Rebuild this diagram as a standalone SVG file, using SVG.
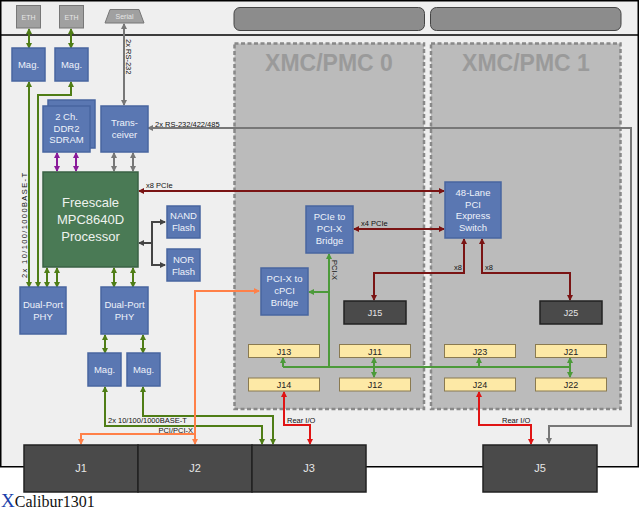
<svg xmlns="http://www.w3.org/2000/svg" width="640" height="511" viewBox="0 0 640 511">
<style>
text{font-family:"Liberation Sans",Arial,sans-serif}
.blue{fill:#5a77b2;stroke:#4866a0;stroke-width:1.5}
.bt{fill:#eef2fa;font-size:9.5px;text-anchor:middle}
.jy{fill:#fde9a6;stroke:#8a7a50;stroke-width:1}
.jyt{fill:#222;font-size:9px;text-anchor:middle}
.jd{fill:#4a4a4a;stroke:#222;stroke-width:1.5}
.jdt{fill:#e6e6e6;font-size:11px;text-anchor:middle}
.lbl{fill:#111;font-size:7.5px}
.w{fill:none;stroke-width:2}
.eth{stroke:#4f7d16}
.pcix{stroke:#4c9a3a}
.dred{stroke:#7a1414}
.red{stroke:#e01414}
.org{stroke:#ff8048}
.gry{stroke:#777}
.pur{stroke:#8a1a9a}
.dg{stroke:#444}
</style>
<defs>
<marker id="aEth" viewBox="0 0 6 6" refX="5" refY="3" markerWidth="6" markerHeight="6" markerUnits="userSpaceOnUse" orient="auto-start-reverse"><path d="M0,0L6,3L0,6z" fill="#4f7d16"/></marker>
<marker id="aPcix" viewBox="0 0 6 6" refX="5" refY="3" markerWidth="6" markerHeight="6" markerUnits="userSpaceOnUse" orient="auto-start-reverse"><path d="M0,0L6,3L0,6z" fill="#4c9a3a"/></marker>
<marker id="aDred" viewBox="0 0 6 6" refX="5" refY="3" markerWidth="6" markerHeight="6" markerUnits="userSpaceOnUse" orient="auto-start-reverse"><path d="M0,0L6,3L0,6z" fill="#7a1414"/></marker>
<marker id="aRed" viewBox="0 0 6 6" refX="5" refY="3" markerWidth="6" markerHeight="6" markerUnits="userSpaceOnUse" orient="auto-start-reverse"><path d="M0,0L6,3L0,6z" fill="#e01414"/></marker>
<marker id="aOrg" viewBox="0 0 6 6" refX="5" refY="3" markerWidth="6" markerHeight="6" markerUnits="userSpaceOnUse" orient="auto-start-reverse"><path d="M0,0L6,3L0,6z" fill="#ff8048"/></marker>
<marker id="aGry" viewBox="0 0 6 6" refX="5" refY="3" markerWidth="6" markerHeight="6" markerUnits="userSpaceOnUse" orient="auto-start-reverse"><path d="M0,0L6,3L0,6z" fill="#777"/></marker>
<marker id="aPur" viewBox="0 0 6 6" refX="5" refY="3" markerWidth="6" markerHeight="6" markerUnits="userSpaceOnUse" orient="auto-start-reverse"><path d="M0,0L6,3L0,6z" fill="#8a1a9a"/></marker>
<marker id="aDg" viewBox="0 0 6 6" refX="5" refY="3" markerWidth="6" markerHeight="6" markerUnits="userSpaceOnUse" orient="auto-start-reverse"><path d="M0,0L6,3L0,6z" fill="#444"/></marker>
</defs>
<rect width="640" height="511" fill="#fff"/>
<g id="board">
<rect x="0.75" y="0.75" width="637.5" height="466" fill="#efefef" stroke="#000" stroke-width="1.5"/>
<line x1="0" y1="35" x2="639" y2="35" stroke="#000" stroke-width="1.5"/>
<rect x="234" y="7.5" width="190.5" height="23" rx="6" fill="#8c8c8c" stroke="#444" stroke-width="1"/>
<rect x="430.5" y="7.5" width="190.5" height="23" rx="6" fill="#8c8c8c" stroke="#444" stroke-width="1"/>
</g>
<g id="xmc0"><rect x="234.5" y="43.5" width="189.5" height="365.5" fill="#bbb" stroke="#888" stroke-width="2.5" stroke-dasharray="4,2.5"/>
<text x="329" y="71" font-size="23" font-weight="bold" fill="#9a9a9a" text-anchor="middle">XMC/PMC 0</text></g>
<g id="xmc1"><rect x="431" y="43.5" width="189.5" height="365.5" fill="#bbb" stroke="#888" stroke-width="2.5" stroke-dasharray="4,2.5"/>
<text x="526" y="71" font-size="23" font-weight="bold" fill="#9a9a9a" text-anchor="middle">XMC/PMC 1</text></g>

<g id="connectors">
<path class="w gry" d="M148,128H631V426H549V443" marker-start="url(#aGry)" marker-end="url(#aGry)"/>
<path class="w gry" d="M124,24V105" marker-start="url(#aGry)" marker-end="url(#aGry)"/>
<path class="w gry" d="M114,153V171" marker-start="url(#aGry)" marker-end="url(#aGry)"/>
<path class="w gry" d="M133,153V171" marker-start="url(#aGry)" marker-end="url(#aGry)"/>
<path class="w pur" d="M57,153V171" marker-start="url(#aPur)" marker-end="url(#aPur)"/>
<path class="w pur" d="M76,153V171" marker-start="url(#aPur)" marker-end="url(#aPur)"/>
<path class="w eth" d="M29,29V48" marker-start="url(#aEth)" marker-end="url(#aEth)"/>
<path class="w eth" d="M71,29V48" marker-start="url(#aEth)" marker-end="url(#aEth)"/>
<path class="w eth" d="M29,82V287" marker-start="url(#aEth)" marker-end="url(#aEth)"/>
<path class="w eth" d="M71,82V95H38V287" marker-start="url(#aEth)" marker-end="url(#aEth)"/>
<path class="w eth" d="M47,268V287" marker-start="url(#aEth)" marker-end="url(#aEth)"/>
<path class="w eth" d="M57,268V287" marker-start="url(#aEth)" marker-end="url(#aEth)"/>
<path class="w eth" d="M114,268V287" marker-start="url(#aEth)" marker-end="url(#aEth)"/>
<path class="w eth" d="M133,268V287" marker-start="url(#aEth)" marker-end="url(#aEth)"/>
<path class="w eth" d="M105,335V353" marker-start="url(#aEth)" marker-end="url(#aEth)"/>
<path class="w eth" d="M143,335V353" marker-start="url(#aEth)" marker-end="url(#aEth)"/>
<path class="w eth" d="M105,387V426H262V444" marker-start="url(#aEth)" marker-end="url(#aEth)"/>
<path class="w eth" d="M143,387V416H273V444" marker-start="url(#aEth)" marker-end="url(#aEth)"/>
<path class="w dg" d="M165,222H152V265H165" marker-start="url(#aDg)" marker-end="url(#aDg)"/>
<path class="w dg" d="M152,243H139" marker-end="url(#aDg)"/>
<path class="w dred" d="M139,191H444" marker-start="url(#aDred)" marker-end="url(#aDred)"/>
<path class="w dred" d="M354,229H444" marker-start="url(#aDred)" marker-end="url(#aDred)"/>
<path class="w dred" d="M464,239V273H374V300" marker-start="url(#aDred)" marker-end="url(#aDred)"/>
<path class="w dred" d="M482,239V273H570V300" marker-start="url(#aDred)" marker-end="url(#aDred)"/>
<path class="w pcix" d="M329,367V254" marker-end="url(#aPcix)"/>
<path class="w pcix" d="M329,292H309" marker-end="url(#aPcix)"/>
<path class="w pcix" d="M283,367H570"/>
<path class="w pcix" d="M283,367V358" marker-end="url(#aPcix)"/>
<path class="w pcix" d="M374,358V377" marker-start="url(#aPcix)" marker-end="url(#aPcix)"/>
<path class="w pcix" d="M479,367V358" marker-end="url(#aPcix)"/>
<path class="w pcix" d="M570,358V377" marker-start="url(#aPcix)" marker-end="url(#aPcix)"/>
<path class="w org" d="M259,291H195V444" marker-start="url(#aOrg)" marker-end="url(#aOrg)"/>
<path class="w org" d="M195,434H81V444" marker-end="url(#aOrg)"/>
<path class="w red" d="M284,392V425H310V444" marker-start="url(#aRed)" marker-end="url(#aRed)"/>
<path class="w red" d="M479,392V425H531V444" marker-start="url(#aRed)" marker-end="url(#aRed)"/>
<text class="lbl" x="155" y="127">2x RS-232/422/485</text>
<text class="lbl" transform="translate(126,39) rotate(90)">2x RS-232</text>
<text class="lbl" transform="translate(27,278) rotate(-90)" textLength="105" lengthAdjust="spacing">2x 10/100/1000BASE-T</text>
<text class="lbl" x="146" y="188">x8 PCIe</text>
<text class="lbl" x="361" y="226">x4 PCIe</text>
<text class="lbl" x="462" y="270" text-anchor="end">x8</text>
<text class="lbl" x="485" y="270">x8</text>
<text class="lbl" transform="translate(332,260) rotate(90)">PCI-X</text>
<text class="lbl" x="108" y="423">2x 10/100/1000BASE-T</text>
<text class="lbl" x="193" y="433" text-anchor="end">PCI/PCI-X</text>
<text class="lbl" x="287" y="423">Rear I/O</text>
<text class="lbl" x="502" y="423">Rear I/O</text>
</g>

<g id="eth1"><rect x="16.5" y="5.5" width="24" height="22.5" fill="#a0a0a0" stroke="#777"/><text x="28.5" y="20" font-size="7" fill="#e6e6e6" text-anchor="middle">ETH</text></g>
<g id="eth2"><rect x="59.5" y="5.5" width="24" height="22.5" fill="#a0a0a0" stroke="#777"/><text x="71.5" y="20" font-size="7" fill="#e6e6e6" text-anchor="middle">ETH</text></g>
<g id="serial"><path d="M110,9.5H139L144,23H105z" fill="#a0a0a0" stroke="#777"/><text x="124.5" y="19" font-size="7" fill="#e6e6e6" text-anchor="middle">Serial</text></g>
<g id="mag1"><rect class="blue" x="12" y="48" width="33" height="33"/><text class="bt" x="28.5" y="68">Mag.</text></g>
<g id="mag2"><rect class="blue" x="55" y="48" width="33" height="33"/><text class="bt" x="71.5" y="68">Mag.</text></g>
<g id="ddr2"><rect class="blue" x="48" y="100" width="47" height="48"/><rect class="blue" x="43" y="106" width="47" height="46"/>
<text class="bt" x="66.5" y="120">2 Ch.</text><text class="bt" x="66.5" y="131.5">DDR2</text><text class="bt" x="66.5" y="143">SDRAM</text></g>
<g id="transceiver"><rect class="blue" x="101" y="106" width="47" height="46"/><text class="bt" x="124.5" y="126">Trans-</text><text class="bt" x="124.5" y="138">ceiver</text></g>
<g id="processor"><rect x="43" y="172" width="95" height="95" fill="#4a7a55" stroke="#3a6244" stroke-width="1.5"/>
<text x="90.5" y="207" font-size="13" fill="#eef2ee" text-anchor="middle">Freescale</text>
<text x="90.5" y="224" font-size="13" fill="#eef2ee" text-anchor="middle">MPC8640D</text>
<text x="90.5" y="241" font-size="13" fill="#eef2ee" text-anchor="middle">Processor</text></g>
<g id="nand"><rect class="blue" x="167" y="206" width="33" height="32"/><text class="bt" x="183.5" y="219">NAND</text><text class="bt" x="183.5" y="231">Flash</text></g>
<g id="nor"><rect class="blue" x="167" y="249" width="33" height="32"/><text class="bt" x="183.5" y="263">NOR</text><text class="bt" x="183.5" y="275">Flash</text></g>
<g id="phy1"><rect class="blue" x="20" y="287" width="46" height="47"/><text class="bt" x="43" y="308">Dual-Port</text><text class="bt" x="43" y="320">PHY</text></g>
<g id="phy2"><rect class="blue" x="101" y="287" width="47" height="47"/><text class="bt" x="124.5" y="308">Dual-Port</text><text class="bt" x="124.5" y="320">PHY</text></g>
<g id="mag3"><rect class="blue" x="88" y="353" width="33" height="33"/><text class="bt" x="104.5" y="373">Mag.</text></g>
<g id="mag4"><rect class="blue" x="127" y="353" width="33" height="33"/><text class="bt" x="143.5" y="373">Mag.</text></g>
<g id="pcie-bridge"><rect class="blue" x="306" y="206" width="47" height="47"/><text class="bt" x="329.5" y="220">PCIe to</text><text class="bt" x="329.5" y="232">PCI-X</text><text class="bt" x="329.5" y="244">Bridge</text></g>
<g id="cpci-bridge"><rect class="blue" x="261" y="268" width="47" height="47"/><text class="bt" x="284.5" y="282">PCI-X to</text><text class="bt" x="284.5" y="294">cPCI</text><text class="bt" x="284.5" y="306">Bridge</text></g>
<g id="switch"><rect class="blue" x="445" y="182" width="56" height="56"/><text class="bt" x="473" y="196">48-Lane</text><text class="bt" x="473" y="207.5">PCI</text><text class="bt" x="473" y="219">Express</text><text class="bt" x="473" y="230.5">Switch</text></g>
<g id="j15"><rect class="jd" x="344" y="301" width="62" height="23" stroke-width="1"/><text class="jyt" x="375" y="316" style="fill:#e6e6e6">J15</text></g>
<g id="j25"><rect class="jd" x="540" y="301" width="62" height="23" stroke-width="1"/><text class="jyt" x="571" y="316" style="fill:#e6e6e6">J25</text></g>
<g id="j13"><rect class="jy" x="248.5" y="344.5" width="71" height="13"/><text class="jyt" x="284" y="354.5">J13</text></g>
<g id="j11"><rect class="jy" x="339.5" y="344.5" width="71" height="13"/><text class="jyt" x="375" y="354.5">J11</text></g>
<g id="j14"><rect class="jy" x="248.5" y="378" width="71" height="13"/><text class="jyt" x="284" y="388">J14</text></g>
<g id="j12"><rect class="jy" x="339.5" y="378" width="71" height="13"/><text class="jyt" x="375" y="388">J12</text></g>
<g id="j23"><rect class="jy" x="444.5" y="344.5" width="71" height="13"/><text class="jyt" x="480" y="354.5">J23</text></g>
<g id="j21"><rect class="jy" x="535.5" y="344.5" width="71" height="13"/><text class="jyt" x="571" y="354.5">J21</text></g>
<g id="j24"><rect class="jy" x="444.5" y="378" width="71" height="13"/><text class="jyt" x="480" y="388">J24</text></g>
<g id="j22"><rect class="jy" x="535.5" y="378" width="71" height="13"/><text class="jyt" x="571" y="388">J22</text></g>
<g id="j1"><rect class="jd" x="24" y="445" width="114" height="47"/><text class="jdt" x="81" y="472">J1</text></g>
<g id="j2"><rect class="jd" x="138" y="445" width="114" height="47"/><text class="jdt" x="195" y="472">J2</text></g>
<g id="j3"><rect class="jd" x="252" y="445" width="114" height="47"/><text class="jdt" x="309" y="472">J3</text></g>
<g id="j5"><rect class="jd" x="483" y="445" width="114" height="47"/><text class="jdt" x="540" y="472">J5</text></g>
<g id="title"><text x="1" y="507" style="font-family:'Liberation Serif',serif"><tspan font-size="19" fill="#1a3faa">X</tspan><tspan font-size="16" fill="#111">Calibur1301</tspan></text></g>
</svg>
